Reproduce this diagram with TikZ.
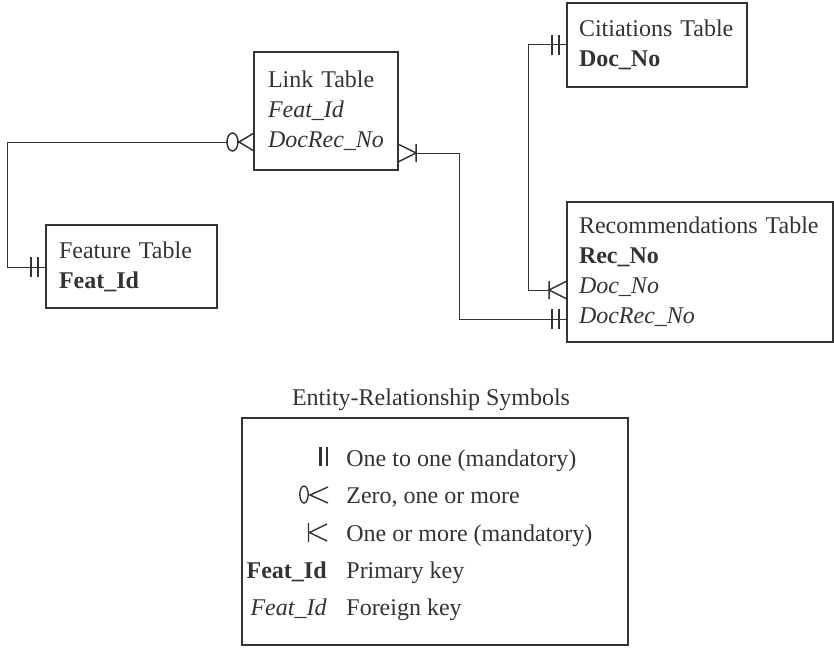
\documentclass[tikz,border=0pt]{standalone}
\usepackage{fontspec}
\setmainfont{Liberation Serif}
\usetikzlibrary{calc}
\definecolor{ink}{gray}{0.2}
\tikzset{
  tbl/.style={draw=ink, line width=0.75pt, anchor=north west, align=left, outer sep=0pt,
    inner xsep=6pt, font=\fontsize{12}{15}\selectfont, text=ink},
  conn/.style={draw=ink, line width=0.5pt},
  lbl/.style={font=\fontsize{12}{15}\selectfont, text=ink, inner sep=0pt},
  bars/.pic={\draw[ink, line width=1pt] (-15,-10) -- (-15,10) (-8,-10) -- (-8,10);},
  crowbar/.pic={\draw[ink, line width=0.75pt] (0,-9) -- (-18,0) -- (0,9) (-18,-9) -- (-18,9);},
  zerocrow/.pic={\draw[ink, line width=0.75pt] (0,-9) -- (-15,0) -- (0,9) (-21.5,0) ellipse [x radius=5.5, y radius=9];}
}
\begin{document}
\begin{tikzpicture}[x=0.5pt,y=-0.5pt]
\useasboundingbox (0,0) rectangle (834,647);

\node[tbl, text width=58pt, minimum height=59pt, inner xsep=7pt] (link) at (254,52)
  {Link Table\\\textit{Feat\_Id}\\\textit{DocRec\_No}};
\node[tbl, text width=72.5pt, minimum height=41.5pt, inner xsep=6.5pt] (feat) at (46,225)
  {Feature Table\\\textbf{Feat\_Id}};
\node[tbl, text width=78pt, minimum height=42pt] (cit) at (567,3)
  {Citiations Table\\\textbf{Doc\_No}};
\node[tbl, text width=121pt, minimum height=70pt] (rec) at (567,202)
  {Recommendations Table\\\textbf{Rec\_No}\\\textit{Doc\_No}\\\textit{DocRec\_No}};

\coordinate (featK) at ($(feat.north west)+(0,42)$);
\coordinate (linkL) at ($(link.north west)+(0,90)$);
\coordinate (linkR) at ($(link.north east)+(0,101)$);
\coordinate (citK) at ($(cit.north west)+(0,42)$);
\coordinate (recD) at ($(rec.north west)+(0,88)$);
\coordinate (recDR) at ($(rec.north west)+(0,117)$);

\draw[conn] (featK) -- ++(-39,0) |- ($(linkL)+(-27,0)$);
\draw[conn] ($(linkR)+(18,0)$) -- ++(43,0) |- (recDR);
\draw[conn] (citK) -- ++(-39,0) |- ($(recD)+(-18,0)$);

\pic at (featK) {bars};
\pic at (linkL) {zerocrow};
\pic[rotate=180] at (linkR) {crowbar};
\pic at (citK) {bars};
\pic at (recD) {crowbar};
\pic at (recDR) {bars};

\node[lbl, anchor=base] (title) at (431,405) {Entity-Relationship Symbols};
\node[draw=ink, line width=0.75pt, anchor=north west, outer sep=0pt, minimum width=193pt, minimum height=113.5pt] (legend) at (242,418) {};

\draw[ink, line width=1.2pt] (320.5,447) -- (320.5,466) (327,447) -- (327,466);
\draw[ink, line width=0.7pt] (304,494.5) ellipse [x radius=4.2, y radius=8.5];
\draw[ink, line width=0.7pt] (328,487) -- (310,495) -- (328,503);
\draw[ink, line width=0.7pt] (308.5,523) -- (308.5,542) (327,524) -- (309.5,532.5) -- (327,541);
\node[lbl, anchor=base east] (kpk) at (327,578) {\textbf{Feat\_Id}};
\node[lbl, anchor=base east] (kfk) at (327,615) {\textit{Feat\_Id}};

\node[lbl, anchor=base west] (d1) at (346,466) {One to one (mandatory)};
\node[lbl, anchor=base west] (d2) at (346,503) {Zero, one or more};
\node[lbl, anchor=base west] (d3) at (346,541) {One or more (mandatory)};
\node[lbl, anchor=base west] (d4) at (346,578) {Primary key};
\node[lbl, anchor=base west] (d5) at (346,615) {Foreign key};
\end{tikzpicture}
\end{document}
